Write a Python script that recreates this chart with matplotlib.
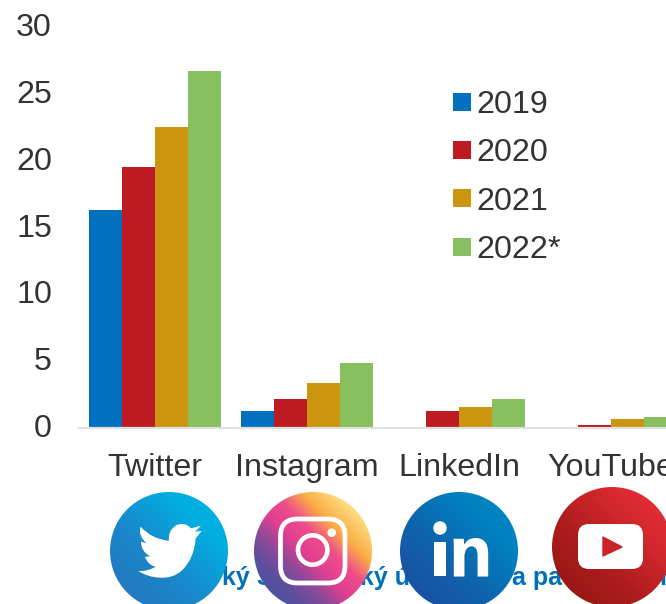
import matplotlib
matplotlib.use("Agg")
import matplotlib.pyplot as plt
import matplotlib.patheffects as pe
import numpy as np
from matplotlib.colors import LinearSegmentedColormap
from matplotlib.lines import Line2D
from matplotlib.patches import Circle, FancyBboxPatch, PathPatch, Polygon, Rectangle
from matplotlib.path import Path
from matplotlib.transforms import ScaledTranslation

plt.rcParams['font.family'] = ['Liberation Sans', 'DejaVu Sans']

W, H = 666, 604

categories = ["Twitter", "Instagram", "LinkedIn", "YouTube"]
years = ["2019", "2020", "2021", "2022*"]
values_2019 = [16.3, 1.2, 0, 0]
values_2020 = [19.5, 2.15, 1.2, 0.15]
values_2021 = [22.5, 3.3, 1.5, 0.65]
values_2022 = [26.7, 4.8, 2.1, 0.8]
yticks = [0, 5, 10, 15, 20, 25, 30]

colors = ["#0070bf", "#be1a22", "#cb9510", "#88c05f"]
text_col = "#333333"
fs = 23.2

fig = plt.figure(figsize=(W / 100, H / 100), dpi=100)

# axes run past the right edge, the last group is cut off like in the original
ax = fig.add_axes([79 / W, 1 - 427.5 / H, 608 / W, 400.8 / H])

series = [values_2019, values_2020, values_2021, values_2022]
x = np.arange(len(categories))
bw = 33 / 152
for i, vals in enumerate(series):
    ax.bar(x + (i - 1.5) * bw, vals, width=bw, color=colors[i], linewidth=0)

ax.set_xlim(-0.5, 3.5)
ax.set_ylim(0, 30)
ax.set_xticks(x)
ax.set_xticklabels(categories)
ax.set_yticks(yticks)
ax.tick_params(axis='x', length=0, labelsize=fs, labelcolor=text_col, pad=18.5)
ax.tick_params(axis='y', length=0, labelsize=fs, labelcolor=text_col, pad=19.5)
# nudge the y labels up a bit
up = ScaledTranslation(0, 2 / 100, fig.dpi_scale_trans)
for lab in ax.get_yticklabels():
    lab.set_verticalalignment('center_baseline')
    lab.set_transform(lab.get_transform() + up)
for s in ['top', 'left', 'right']:
    ax.spines[s].set_visible(False)
ax.spines['bottom'].set_color('#e0e0e0')
ax.spines['bottom'].set_linewidth(1.6)

handles = [Line2D([], [], linestyle='none', marker='s', markersize=12.4,
                  markerfacecolor=c, markeredgewidth=0) for c in colors]
leg = fig.legend(handles, years, loc='upper left', bbox_to_anchor=(450 / W, 1 - 90 / H),
                 frameon=False, fontsize=fs, labelcolor=text_col, borderpad=0,
                 borderaxespad=0, handlelength=0.73, handletextpad=0.1, labelspacing=0.57)

# overlay in pixel coordinates for the logos and the caption under them
ov = fig.add_axes([0, 0, 1, 1])
ov.set_xlim(0, W)
ov.set_ylim(H, 0)
ov.axis('off')
ov.patch.set_alpha(0)

blue = "#0070b8"
for tx, label in [(222, "ký S"), (360, "ký ú"), (512, "a pa"), (659, "n")]:
    ov.text(tx, 585, label, fontsize=18, fontweight='bold', color=blue, va='baseline', ha='left')


def logo(cx, cy, r, stops):
    # diagonal gradient, bottom left to top right, clipped to a circle
    cmap = LinearSegmentedColormap.from_list("g", stops)
    n = 200
    yy, xx = np.mgrid[0:1:n * 1j, 0:1:n * 1j]
    grad = (xx + yy) / 2
    im = ov.imshow(grad, cmap=cmap, vmin=0, vmax=1, origin='upper',
                   extent=(cx - r, cx + r, cy - r, cy + r), zorder=3, aspect='auto')
    im.set_clip_path(Circle((cx, cy), r, transform=ov.transData))


logo(169, 551, 59, [(0, "#2a72bd"), (0.4, "#1a86c9"), (0.75, "#02aee1"), (1, "#00b0e2")])
logo(313, 551, 59, [(0, "#3c55a5"), (0.22, "#5a4f9e"), (0.34, "#8a4a98"), (0.46, "#e23f92"),
                    (0.58, "#ee4d8a"), (0.7, "#fbae45"), (0.85, "#fedc80"), (1, "#fee08a")])
logo(459, 551, 59, [(0, "#2048a0"), (0.4, "#0f62ab"), (0.75, "#0083c0"), (1, "#0083c0")])
logo(612, 547, 60, [(0, "#8e1512"), (0.4, "#ae1d1c"), (0.75, "#da2a31"), (1, "#ea2e38")])

ov.set_xlim(0, W)
ov.set_ylim(H, 0)


def bird_xy(zx, zy):
    return 105 + zx / 3, 490 + zy / 3


bird = [(Path.MOVETO, (288, 107)), (Path.LINETO, (270, 125)), (Path.LINETO, (290, 123)),
        (Path.LINETO, (272, 145)), (Path.CURVE3, (268, 205)), (Path.CURVE3, (232, 240)),
        (Path.CURVE3, (205, 266)), (Path.CURVE3, (165, 263)), (Path.CURVE3, (130, 262)),
        (Path.CURVE3, (100, 243)), (Path.CURVE3, (128, 245)), (Path.CURVE3, (152, 230)),
        (Path.CURVE3, (128, 225)), (Path.CURVE3, (120, 200)), (Path.LINETO, (136, 199)),
        (Path.CURVE3, (108, 185)), (Path.CURVE3, (108, 155)), (Path.LINETO, (124, 160)),
        (Path.CURVE3, (98, 135)), (Path.CURVE3, (107, 110)), (Path.CURVE3, (140, 148)),
        (Path.CURVE3, (192, 152)), (Path.CURVE3, (188, 120)), (Path.CURVE3, (215, 105)),
        (Path.CURVE3, (240, 95)), (Path.CURVE3, (258, 115)), (Path.LINETO, (288, 107)),
        (Path.CLOSEPOLY, (288, 107))]
bird_path = Path([bird_xy(*p) for _, p in bird], [c for c, _ in bird])
ov.add_patch(PathPatch(bird_path, facecolor='white', edgecolor='none', zorder=4))

# instagram
ov.add_patch(FancyBboxPatch((280.5, 519), 64.5, 64, boxstyle="round,pad=0,rounding_size=17",
                            facecolor='none', edgecolor='white', linewidth=3.4, zorder=4))
ov.add_patch(Circle((312.7, 550), 14.7, facecolor='none', edgecolor='white', linewidth=3.3, zorder=4))
ov.add_patch(Circle((331.7, 532.7), 4.3, facecolor='white', edgecolor='none', zorder=4))

# linkedin
ov.add_patch(Circle((440, 528), 6.7, facecolor='white', edgecolor='none', zorder=4))
ov.add_patch(Rectangle((434.3, 541.7), 11.7, 34.5, facecolor='white', edgecolor='none', zorder=4))
ov.text(449.5, 576, "n", fontsize=50, fontweight='bold', color='white', ha='left', va='baseline',
        zorder=4, path_effects=[pe.withStroke(linewidth=0.8, foreground='white')])

# youtube
ov.add_patch(FancyBboxPatch((578, 524), 65, 45, boxstyle="round,pad=0,rounding_size=11",
                            facecolor='white', edgecolor='none', zorder=4))
ov.add_patch(Polygon([(603, 537), (603, 556), (622, 547)], closed=True, facecolor='#c9242a',
                     edgecolor='#c9242a', joinstyle='round', zorder=5))

fig.savefig("out.png", dpi=100)
